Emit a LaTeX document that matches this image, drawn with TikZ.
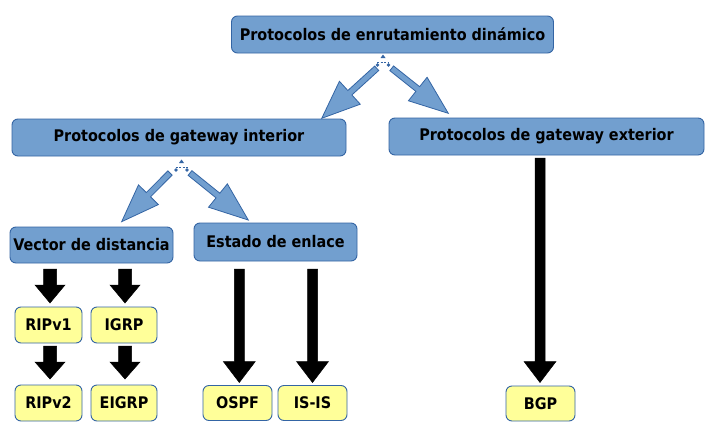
\documentclass[tikz,border=0pt]{standalone}
\usepackage{fontspec}
\setmainfont{DejaVu Sans Condensed}[BoldFont={DejaVu Sans Condensed Bold}]
\definecolor{boxblue}{HTML}{729FCF}
\definecolor{edgeblue}{HTML}{3465A4}
\definecolor{boxyellow}{HTML}{FFFF99}
\tikzset{
  bluebox/.style={draw=edgeblue, fill=boxblue, rounded corners=6pt, line width=0.9pt,
    inner sep=0pt, font=\fontsize{16}{19}\selectfont\bfseries, text=black},
  yelbox/.style={draw=edgeblue, fill=boxyellow, rounded corners=6pt, line width=0.9pt,
    inner sep=0pt, font=\fontsize{16}{19}\selectfont\bfseries, text=black, minimum height=36pt},
  bluearrow/.style={draw=edgeblue, fill=boxblue, line width=0.8pt, line join=miter},
  blackarrow/.style={fill=black, draw=black, line width=0.5pt},
  marker/.style={fill=edgeblue, draw=none}
}
% \myblackarrow{x}{ytop}{yhead}{ytip}{shafthalf}{headhalf}
\newcommand{\myblackarrow}[6]{%
  \draw[blackarrow] (#1-#5,#2) -- (#1+#5,#2) -- (#1+#5,#3) -- (#1+#6,#3) -- (#1,#4)
    -- (#1-#6,#3) -- (#1-#5,#3) -- cycle;}
% \mybluearrow{x}{y}{angle}{length}{headlen}{headhalf}{shafthalf}
\newcommand{\mybluearrow}[7]{%
  \begin{scope}[shift={(#1,#2)}, rotate=#3]
    \draw[bluearrow] (0,-#7) -- (#4-#5,-#7) -- (#4-#5,-#6) -- (#4,0) -- (#4-#5,#6)
      -- (#4-#5,#7) -- (0,#7) -- cycle;
  \end{scope}}
\newcommand{\mymarkers}[2]{%
  \fill[marker] (#1-2.5,#2-4) -- (#1+2.5,#2-4) -- (#1,#2-7.5) -- cycle;
  \draw[edgeblue, line width=1pt, dash pattern=on 2pt off 1.5pt] (#1-6,#2) -- (#1+6,#2);
  \fill[marker] (#1-5.5,#2+3) circle (1.8);
  \fill[marker] (#1+5.5,#2+3) circle (1.8);}
\begin{document}
\begin{tikzpicture}[x=1pt,y=-1pt]
\useasboundingbox (0,0) rectangle (723,434);
\fill[white] (0,0) rectangle (723,434);

\node[bluebox, minimum width=322pt, minimum height=37pt] (top) at (392.5,34.5) {Protocolos de enrutamiento dinámico};
\node[bluebox, minimum width=334pt, minimum height=37pt] (pgi) at (179,137.5) {Protocolos de gateway interior};
\node[bluebox, minimum width=315pt, minimum height=37pt] (pge) at (546.5,136.5) {Protocolos de gateway exterior};
\node[bluebox, minimum width=163pt, minimum height=36pt] (vd) at (91.5,245) {Vector de distancia};
\node[bluebox, minimum width=163pt, minimum height=38pt] (ee) at (275.5,242) {Estado de enlace};

\node[yelbox, minimum width=67pt] (rip1) at (48.5,325) {RIPv1};
\node[yelbox, minimum width=66pt] (igrp) at (124,325) {IGRP};
\node[yelbox, minimum width=67pt] (rip2) at (48.5,403) {RIPv2};
\node[yelbox, minimum width=66pt] (eigrp) at (124,403) {EIGRP};
\node[yelbox, minimum width=69pt, minimum height=35pt] (ospf) at (237.5,403) {OSPF};
\node[yelbox, minimum width=69pt, minimum height=35pt] (isis) at (312.5,403) {IS-IS};
\node[yelbox, minimum width=69pt, minimum height=35pt] (bgp) at (540.5,403.5) {BGP};

% blue diagonal arrows
\mymarkers{383}{62}
\mybluearrow{376.7}{68.3}{222.3}{74.3}{38}{15.5}{3}
\mybluearrow{391.7}{68.3}{-38.5}{72.3}{39}{15}{3}
\mymarkers{181.5}{167}
\mybluearrow{170}{173}{225.2}{68.6}{38}{14}{3}
\mybluearrow{190}{173}{-38.9}{74.9}{39}{15}{3}

% black block arrows
\myblackarrow{50}{269}{285}{303}{6.5}{15}
\myblackarrow{125}{269}{285}{303}{6.5}{15}
\myblackarrow{50}{346}{362}{379}{6.5}{15}
\myblackarrow{125}{346}{362}{379}{6.5}{15}
\myblackarrow{239.3}{269}{361.5}{382.5}{5}{16}
\myblackarrow{312.5}{269}{361.5}{382.5}{5}{16}
\myblackarrow{540}{158}{361.5}{382.5}{5}{16}
\end{tikzpicture}
\end{document}
